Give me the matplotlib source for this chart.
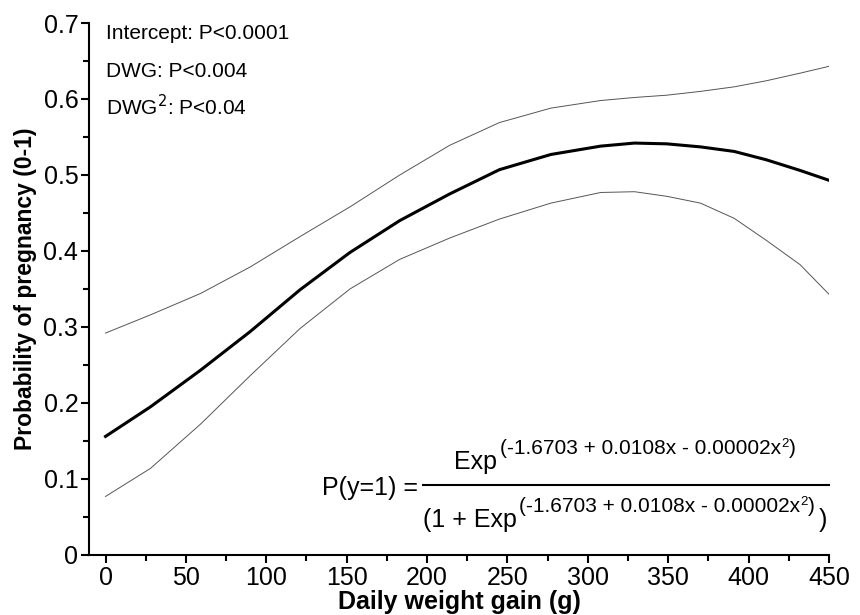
import matplotlib
matplotlib.use("Agg")
import matplotlib.pyplot as plt
from matplotlib.ticker import MultipleLocator

plt.rcParams['font.family'] = ['Liberation Sans', 'DejaVu Sans']

# values
gain = [0, 28, 59, 90, 121, 152, 183, 214, 245, 277, 308, 329, 349, 370, 391, 411, 432, 450]
prob = [0.156, 0.195, 0.243, 0.294, 0.349, 0.398, 0.440, 0.475, 0.507, 0.527, 0.538, 0.542,
        0.541, 0.537, 0.531, 0.520, 0.506, 0.493]
upper = [0.292, 0.316, 0.344, 0.379, 0.419, 0.458, 0.500, 0.539, 0.569, 0.588, 0.598, 0.602,
         0.605, 0.610, 0.616, 0.624, 0.634, 0.643]
lower = [0.077, 0.114, 0.172, 0.236, 0.298, 0.350, 0.389, 0.417, 0.442, 0.463, 0.477, 0.478,
         0.472, 0.463, 0.443, 0.414, 0.382, 0.343]

pvals = ['Intercept: P<0.0001', 'DWG: P<0.004', 'DWG$^2$: P<0.04']
exponent = '(-1.6703 + 0.0108x - 0.00002x'

fig = plt.figure(figsize=(8.6, 6.15), dpi=100)
ax = fig.add_axes([0.104, 0.0976, 0.860, 0.865])

ax.plot(gain, upper, color='#555555', lw=0.7)
ax.plot(gain, lower, color='#555555', lw=0.7)
ax.plot(gain, prob, color='black', lw=2.2)

ax.set_xlim(-10, 450)
ax.set_ylim(0, 0.7)
ax.xaxis.set_major_locator(MultipleLocator(50))
ax.xaxis.set_minor_locator(MultipleLocator(25))
ax.yaxis.set_minor_locator(MultipleLocator(0.05))
ax.set_yticks([0, 0.1, 0.2, 0.3, 0.4, 0.5, 0.6, 0.7])
ax.set_yticklabels(['0', '0.1', '0.2', '0.3', '0.4', '0.5', '0.6', '0.7'])

for s in ['top', 'right']:
    ax.spines[s].set_visible(False)
for s in ['left', 'bottom']:
    ax.spines[s].set_linewidth(1.5)
ax.tick_params(which='major', direction='out', length=6, width=1.5, labelsize=18, pad=2)
ax.tick_params(which='minor', direction='out', length=4, width=1.5)

ax.set_xlabel('Daily weight gain (g)', fontsize=18, fontweight='bold', labelpad=0)
ax.set_ylabel('Probability of pregnancy (0-1)', fontsize=16.5, fontweight='bold', labelpad=5)

for t, y in zip(pvals, [0.981, 0.908, 0.842]):
    ax.text(0.022, y, t, transform=ax.transAxes, fontsize=15, va='center', ha='left')

# equation
ax.text(0.444, 0.113, 'P(y=1) =', transform=ax.transAxes, fontsize=18, va='baseline', ha='right')
ax.plot([0.451, 1.0], [0.1316, 0.1316], transform=ax.transAxes, color='black', lw=1.5, clip_on=False)

renderer = fig.canvas.get_renderer()
W, H = fig.bbox.width, fig.bbox.height


def eq_line(parts, xc, yb):
    # parts: (text, fontsize, rise in px, gap before in px), laid out left to right
    xc, yb = ax.transAxes.transform((xc, yb))
    texts, widths = [], []
    for s, fs, rise, gap in parts:
        t = fig.text(0, 0, s, fontsize=fs, ha='left', va='baseline')
        texts.append(t)
        widths.append(t.get_window_extent(renderer).width)
    x = xc - (sum(widths) + sum(p[3] for p in parts)) / 2
    for t, w, p in zip(texts, widths, parts):
        x += p[3]
        t.set_position((x / W, (yb + p[2]) / H))
        x += w


eq_line([('Exp', 18, 0, 0), (exponent, 15, 15, 3), ('2', 9.5, 22, 0), (')', 15, 15, 0)], 0.724, 0.162)
eq_line([('(1 + Exp', 18, 0, 0), (exponent, 15, 15, 3), ('2', 9.5, 22, 0), (')', 15, 15, 0),
         (')', 18, 0, 4)], 0.724, 0.053)

fig.savefig('out.png', dpi=100)
